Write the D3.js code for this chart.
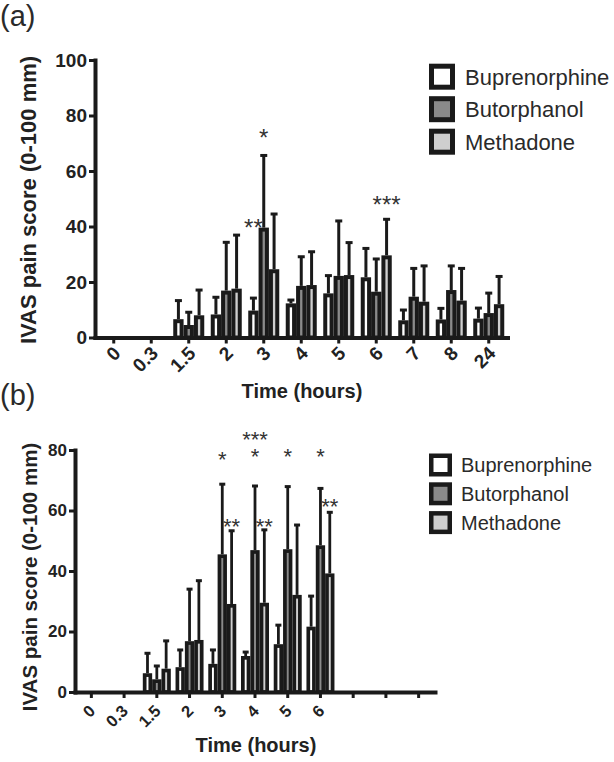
<!DOCTYPE html>
<html><head><meta charset="utf-8">
<script src="https://cdn.jsdelivr.net/npm/d3@7"></script>
<style>
html,body{margin:0;padding:0;background:#fff;}
svg{display:block;font-family:"Liberation Sans",Arial,Helvetica,sans-serif;}
</style></head>
<body>
<svg id="chart" width="614" height="762"></svg>
<script>
// ---------- DATA ----------
const seriesNames = ["Buprenorphine","Butorphanol","Methadone"];
const seriesFill = ["#ffffff","#8a8a8a","#cfcfcf"];

// Panel (a)
const timesA = ["0","0.3","1.5","2","3","4","5","6","7","8","24"];
const bupMeanA  = [0,0,6.6,8.3,9.7,12.3,15.9,21.7,6.2,6.5,6.8];
const bupSdA    = [0,0,6.7,6.2,4.5,1.2,6.4,10.4,3.7,4.0,3.8];
const butMeanA  = [0,0,4.5,16.9,39.6,18.6,22.2,16.5,14.7,17.1,8.8];
const butSdA    = [0,0,4.6,17.4,26.0,10.5,19.8,11.8,10.2,8.7,7.2];
const metMeanA  = [0,0,8.0,17.6,24.6,18.9,22.5,29.6,12.9,13.3,12.0];
const metSdA    = [0,0,9.1,19.3,19.9,12.0,11.7,13.0,12.9,11.6,10.0];
const yTicksA = [0,20,40,60,80,100];
const annotA = [
  {time:"3", series:1, level:73.7, lines:["*"]},
  {time:"3", series:0, level:41.2, lines:["**"]},
  {time:"6", series:2, level:49.5, lines:["***"]}
];

// Panel (b)
const slotsB  = ["0","0.3","1.5","2","3","4","5","6","s9","s10","s11"];
const tickLabelsB = ["0","0.3","1.5","2","3","4","5","6","","",""];
const bupMeanB = [0,0,6.2,8.2,9.3,11.9,15.8,21.6,0,0,0];
const bupSdB   = [0,0,6.6,5.7,4.6,1.3,6.3,10.1,0,0,0];
const butMeanB = [0,0,4.2,16.8,45.5,46.9,47.2,48.5,0,0,0];
const butSdB   = [0,0,4.4,17.2,23.2,21.2,20.7,18.8,0,0,0];
const metMeanB = [0,0,7.7,17.2,29.1,29.5,32.1,39.2,0,0,0];
const metSdB   = [0,0,9.2,19.6,24.2,24.1,23.1,20.2,0,0,0];
const yTicksB = [0,20,40,60,80];
const annotB = [
  {time:"3", series:1, level:78.3, lines:["*"]},
  {time:"3", series:2, level:56.3, lines:["**"]},
  {time:"4", series:1, level:79.4, lines:["***","*"]},
  {time:"4", series:2, level:56.3, lines:["**"]},
  {time:"5", series:1, level:79.4, lines:["*"]},
  {time:"6", series:1, level:79.4, lines:["*"]},
  {time:"6", series:2, level:62.9, lines:["**"]}
];

const svg = d3.select("#chart");

function panel(cfg){
  const g = svg.append("g");
  const x = d3.scaleBand().domain(cfg.cats).range(cfg.xr).paddingInner(0).paddingOuter(0);
  const y = d3.scaleLinear().domain(cfg.yd).range(cfg.yr);
  const sub = d3.scaleBand().domain([0,1,2]).range([-cfg.gw/2, cfg.gw/2]);
  const bw = sub.bandwidth();
  const sw = cfg.barStroke;

  const rows = [];
  cfg.means.forEach((m,si)=>{
    m.forEach((v,i)=>{
      if(v>0) rows.push({cat:cfg.cats[i], s:si, v:v, sd:cfg.sds[si][i]});
    });
  });
  const cx = d => x(d.cat)+x.bandwidth()/2 + sub(d.s) + bw/2;

  const eg = g.append("g");
  eg.selectAll("line.err").data(rows.filter(d=>d.sd>0)).join("line")
    .attr("x1",cx).attr("x2",cx)
    .attr("y1",d=>y(d.v)).attr("y2",d=>y(d.v+d.sd))
    .attr("stroke","#1a1a1a").attr("stroke-width",cfg.errW);
  eg.selectAll("line.cap").data(rows.filter(d=>d.sd>0)).join("line")
    .attr("x1",d=>cx(d)-cfg.capW/2).attr("x2",d=>cx(d)+cfg.capW/2)
    .attr("y1",d=>y(d.v+d.sd)).attr("y2",d=>y(d.v+d.sd))
    .attr("stroke","#1a1a1a").attr("stroke-width",cfg.capT);

  g.append("g").selectAll("rect").data(rows).join("rect")
    .attr("x",d=>x(d.cat)+x.bandwidth()/2 + sub(d.s) + sw/2)
    .attr("width",bw - sw)
    .attr("y",d=>y(d.v)+sw/2)
    .attr("height",d=>Math.max(0,y(0)-y(d.v)-sw/2))
    .attr("fill",d=>seriesFill[d.s])
    .attr("stroke","#1a1a1a").attr("stroke-width",sw);

  const ya = g.append("g").attr("transform",`translate(${cfg.xr[0]},0)`)
    .call(d3.axisLeft(y).tickValues(cfg.yTicks).tickSize(6).tickSizeOuter(0).tickPadding(2));
  const xa = g.append("g").attr("transform",`translate(0,${cfg.yr[0]})`)
    .call(d3.axisBottom(x).tickSize(6).tickSizeOuter(0).tickFormat((d,i)=>cfg.tickLabels[i]));
  [ya,xa].forEach(a=>{
    a.select(".domain").attr("stroke","#1a1a1a").attr("stroke-width",cfg.axisW).attr("stroke-linecap","square");
    a.selectAll(".tick line").attr("stroke","#1a1a1a").attr("stroke-width",3);
  });
  ya.selectAll(".tick text").attr("font-size",cfg.tickFs).attr("font-weight","bold").attr("fill","#222").attr("x",-8);
  xa.selectAll(".tick text")
    .attr("font-size",cfg.xTickFs).attr("font-weight","bold").attr("fill","#222")
    .attr("text-anchor","end").attr("dy",null).attr("y",null)
    .attr("transform",`translate(${cfg.xlabDx},${cfg.xlabDy}) rotate(-45)`);

  g.append("text").attr("transform",`translate(${cfg.yTitle[0]},${cfg.yTitle[1]}) rotate(-90)`)
    .attr("text-anchor","middle").attr("dy","0.35em")
    .attr("font-size",cfg.yTitleFs).attr("font-weight","bold").attr("fill","#222")
    .text("IVAS pain score (0-100 mm)");
  g.append("text").attr("x",cfg.xTitle[0]).attr("y",cfg.xTitle[1])
    .attr("text-anchor","middle").attr("font-size",cfg.xTitleFs).attr("font-weight","bold").attr("fill","#222")
    .text("Time (hours)");
  g.append("text").attr("x",0).attr("y",cfg.letterY).attr("font-size",29).attr("fill","#2a2a2a").text(cfg.letter);

  // annotations (multi-line stacks drawn upward from the given level)
  const at = g.append("g").selectAll("text").data(cfg.annot).join("text")
    .attr("text-anchor","middle").attr("font-size",cfg.astFs).attr("fill","#333");
  at.each(function(d){
    const ax = x(d.time)+x.bandwidth()/2 + sub(d.series) + bw/2;
    const base = y(d.level)+cfg.astFs*0.55;
    const n = d.lines.length;
    d.lines.forEach((l,k)=>{
      d3.select(this).append("tspan").attr("x",ax)
        .attr("y",base - (n-1-k)*cfg.astLine).text(l);
    });
  });

  const lg = g.append("g");
  seriesNames.forEach((n,i)=>{
    const cy = cfg.leg.y0 + i*cfg.leg.dy;
    const s = cfg.leg.box, lw = cfg.leg.lw;
    lg.append("rect").attr("x",cfg.leg.x+lw/2).attr("y",cy-s/2+lw/2)
      .attr("width",s-lw).attr("height",s-lw)
      .attr("fill",seriesFill[i]).attr("stroke","#1a1a1a").attr("stroke-width",lw);
    lg.append("text").attr("x",cfg.leg.tx).attr("y",cy).attr("dy","0.36em")
      .attr("font-size",cfg.leg.fs).attr("fill","#2a2a2a").text(n);
  });
}

panel({
  cats: timesA, tickLabels: timesA,
  xr:[95,507.5], yd:[0,100], yr:[337.5,60], gw:31, barStroke:4,
  means:[bupMeanA,butMeanA,metMeanA], sds:[bupSdA,butSdA,metSdA],
  yTicks:yTicksA, errW:3, capW:7, capT:3, axisW:4,
  tickFs:19, xTickFs:19, xlabDx:8, xlabDy:17,
  yTitle:[28,200], yTitleFs:22, xTitle:[302,398], xTitleFs:20,
  letter:"(a)", letterY:26, annot:annotA, astFs:24, astLine:18,
  leg:{x:429,tx:465,y0:76.7,dy:32.5,box:26,lw:5,fs:22}
});
panel({
  cats: slotsB, tickLabels: tickLabelsB,
  xr:[75,435], yd:[0,80], yr:[692,450], gw:28, barStroke:3.7,
  means:[bupMeanB,butMeanB,metMeanB], sds:[bupSdB,butSdB,metSdB],
  yTicks:yTicksB, errW:2.8, capW:6, capT:3, axisW:4,
  tickFs:17, xTickFs:16.5, xlabDx:5, xlabDy:20,
  yTitle:[30,577], yTitleFs:20.5, xTitle:[256,752], xTitleFs:20,
  letter:"(b)", letterY:405, annot:annotB, astFs:22, astLine:16.7,
  leg:{x:429,tx:461,y0:465,dy:28.8,box:23,lw:4.5,fs:20}
});
</script>
</body></html>
